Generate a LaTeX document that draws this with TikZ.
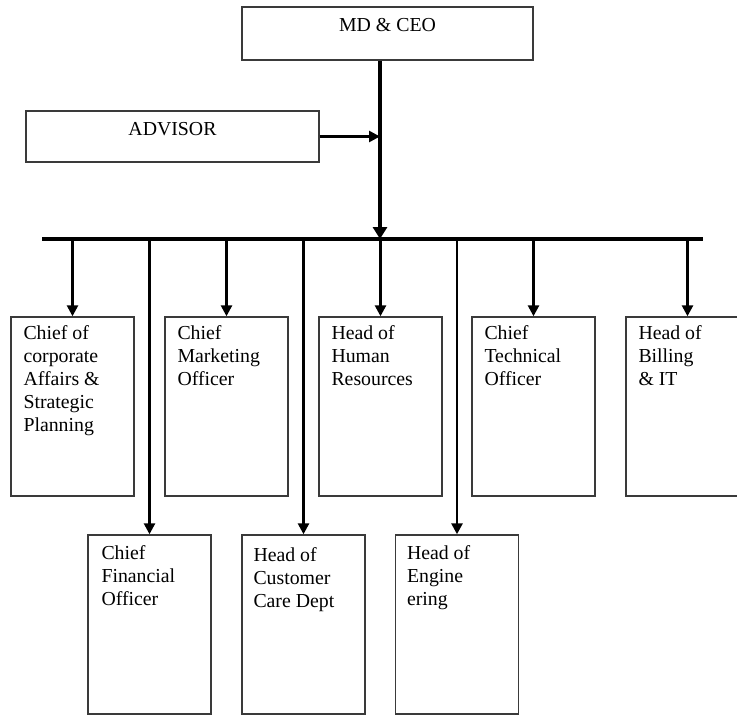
\documentclass[tikz,border=0pt]{standalone}
\usepackage{fontspec}
\setmainfont{Liberation Serif}
\usepackage{xcolor}
\usepackage{tikz}
\usetikzlibrary{arrows.meta}
\definecolor{FrameGrey}{RGB}{58, 58, 58}

\begin{document}
\begin{tikzpicture}[x=1pt, y=-1pt,
    unit/.style={draw=FrameGrey, line width=1.4pt, fill=white, minimum width=123pt, minimum height=179pt, inner sep=0pt},
    topbox/.style={draw=FrameGrey, line width=1.4pt, fill=white, inner sep=0pt},
    lbl/.style={anchor=north west, inner sep=0pt, align=left, font=\fontsize{19.8}{23}\selectfont, execute at begin node=\strut},
    title/.style={anchor=base, inner sep=0pt, font=\fontsize{19.8}{23}\selectfont},
    trunk/.style={line width=3.5pt, -{Triangle[width=14pt, length=12pt]}},
    drop/.style={line width=2.6pt, -{Triangle[width=11pt, length=11pt]}},
    busline/.style={line width=3.5pt}]
  \clip (0,0) rectangle (737,715);
  \fill[white] (0,0) rectangle (737,715);

  % top of the chart
  \node[topbox, minimum width=291pt, minimum height=53pt] (ceo) at (387.5,33.5) {};
  \node[title] (ceo-t) at ([yshift=-25pt]ceo.north) {MD \& CEO};
  \node[topbox, minimum width=293pt, minimum height=51pt] (adv) at (172.5,136.5) {};
  \node[title] (adv-t) at ([yshift=-25pt]adv.north) {ADVISOR};

  \coordinate (busL) at (42,239);
  \coordinate (busR) at (703,239);
  \coordinate (hub) at (380,239);

  % first row
  \node[unit] (cap) at (72.5,406.5) {};
  \node[unit] (cmo) at (226.5,406.5) {};
  \node[unit] (hhr) at (380.5,406.5) {};
  \node[unit] (cto) at (533.5,406.5) {};
  \node[unit] (hbi) at (687.5,406.5) {};
  % second row
  \node[unit] (cfo) at (149.5,624.5) {};
  \node[unit] (hcc) at (303.5,624.5) {};
  \node[unit] (hen) at (457,624.5) {};

  \node[lbl] (cap-t) at ([xshift=13pt, yshift=-9pt]cap.north west) {Chief of\\corporate\\Affairs \&\\Strategic\\Planning};
  \node[lbl] (cmo-t) at ([xshift=13pt, yshift=-9pt]cmo.north west) {Chief\\Marketing\\Officer};
  \node[lbl] (hhr-t) at ([xshift=13pt, yshift=-9pt]hhr.north west) {Head of\\Human\\Resources};
  \node[lbl] (cto-t) at ([xshift=13pt, yshift=-9pt]cto.north west) {Chief\\Technical\\Officer};
  \node[lbl] (hbi-t) at ([xshift=13pt, yshift=-9pt]hbi.north west) {Head of\\Billing\\\& IT};
  \node[lbl] (cfo-t) at ([xshift=14pt, yshift=-11pt]cfo.north west) {Chief\\Financial\\Officer};
  \node[lbl] (hcc-t) at ([xshift=12pt, yshift=-13pt]hcc.north west) {Head of\\Customer\\Care Dept};
  \node[lbl] (hen-t) at ([xshift=12pt, yshift=-11pt]hen.north west) {Head of\\Engine\\ering};

  % connectors
  \draw[trunk] (hub |- ceo.south) -- (hub);
  \draw[drop] (adv.east) -- (adv.east -| hub);
  \draw[busline] (busL) -- (busR);
  \foreach \b in {cap,cmo,hhr,cto,hbi,cfo,hcc,hen}
    \draw[drop] (\b.north |- busL) -- (\b.north);
\end{tikzpicture}
\end{document}
